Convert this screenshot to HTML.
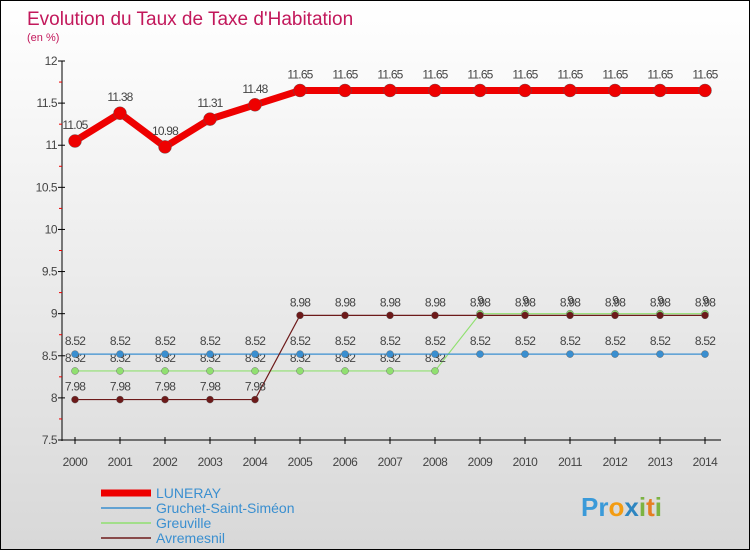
<!DOCTYPE html>
<html><head><meta charset="utf-8"><style>
body{margin:0}
#c{width:750px;height:550px;position:relative;box-sizing:border-box;border:1px solid #000;background:linear-gradient(#fff,#d8d8d8);font-family:"Liberation Sans",sans-serif;overflow:hidden}
svg text{font-family:"Liberation Sans",sans-serif}
</style></head><body>
<div id="c">
<svg id="s" width="748" height="548">
<text x="26" y="24" font-size="19" fill="#c2185b">Evolution du Taux de Taxe d'Habitation</text>
<text x="26" y="40" font-size="11" fill="#c2185b">(en %)</text>
<text x="580" y="515" font-size="26" font-weight="bold" fill="#3a9ad9">Pr<tspan fill="#f39c12">o</tspan><tspan fill="#2e86c1">x</tspan><tspan fill="#7cb342">i</tspan><tspan fill="#e67e22">t</tspan><tspan fill="#7cb342">i</tspan></text>
</svg>
</div>
<script>
const years=[2000,2001,2002,2003,2004,2005,2006,2007,2008,2009,2010,2011,2012,2013,2014];
const yTicks=[7.5,8,8.5,9,9.5,10,10.5,11,11.5,12];
const luneray=[11.05,11.38,10.98,11.31,11.48,11.65,11.65,11.65,11.65,11.65,11.65,11.65,11.65,11.65,11.65];
const gruchet=[8.52,8.52,8.52,8.52,8.52,8.52,8.52,8.52,8.52,8.52,8.52,8.52,8.52,8.52,8.52];
const greuville=[8.32,8.32,8.32,8.32,8.32,8.32,8.32,8.32,8.32,9,9,9,9,9,9];
const avremesnil=[7.98,7.98,7.98,7.98,7.98,8.98,8.98,8.98,8.98,8.98,8.98,8.98,8.98,8.98,8.98];
const names=["LUNERAY","Gruchet-Saint-Siméon","Greuville","Avremesnil"];
const s=document.getElementById('s');const NS='http://www.w3.org/2000/svg';
const X=i=>74+i*45, Y=v=>439-(v-7.5)/4.5*379;
function el(t,a,p){const e=document.createElementNS(NS,t);for(const k in a)e.setAttribute(k,a[k]);(p||s).appendChild(e);return e;}
let ax=el('line',{x1:61,y1:60,x2:61,y2:440,stroke:'#000'});

let bx=el('line',{x1:61,y1:439,x2:720,y2:439,stroke:'#000'});

yTicks.forEach((v,i)=>{el('line',{x1:57,x2:64,y1:Y(v),y2:Y(v),stroke:'#000'});
 if(i<yTicks.length-1)el('line',{x1:58,x2:61,y1:Y(v+0.25),y2:Y(v+0.25),stroke:'#e00'});
 const t=el('text',{x:56,y:Y(v)+4,'text-anchor':'end','font-size':12,fill:'#444','letter-spacing':'-0.5'});t.textContent=String(v);
 });
years.forEach((y,i)=>{el('line',{x1:X(i),x2:X(i),y1:436,y2:443,stroke:'#000'});
 const t=el('text',{x:X(i),y:465,'text-anchor':'middle','font-size':12,fill:'#444','letter-spacing':'-0.5'});t.textContent=y;
 });
const series=[[greuville,'#90e070',1.2,3.5,'greuville'],[gruchet,'#3a8fd0',1.2,3.5,'gruchet'],[avremesnil,'#6d1a1a',1.2,3.5,'avremesnil'],[luneray,'#ee0000',7,6.5,'luneray']];
series.forEach(([d,c,w,r,n])=>{
 const g=el('g',{});
 el('polyline',{points:d.map((v,i)=>X(i)+','+Y(v)).join(' '),fill:'none',stroke:c,'stroke-width':w},g);
 d.forEach((v,i)=>{const p=el('circle',{cx:X(i),cy:Y(v),r:r,fill:c,stroke:'#555','stroke-width':0.4},g);
  
  const t=el('text',{x:X(i),y:Y(v)-(n==='luneray'?12:9),'text-anchor':'middle','font-size':12,fill:'#444','letter-spacing':'-0.8'},g);
  t.textContent=(v===9?'9':v.toFixed(2));});
});
const lc=['#ee0000','#3a8fd0','#90e070','#6d1a1a'],lw=[7,1.5,1.5,1.5];
names.forEach((nm,i)=>{const yy=492+i*15;
 const g=el('g',{});
 el('line',{x1:100,x2:150,y1:yy,y2:yy,stroke:lc[i],'stroke-width':lw[i]},g);
 const t=el('text',{x:155,y:yy+5,'font-size':14,fill:'#3a8fd0'},g);t.textContent=nm;});
</script>
</body></html>
